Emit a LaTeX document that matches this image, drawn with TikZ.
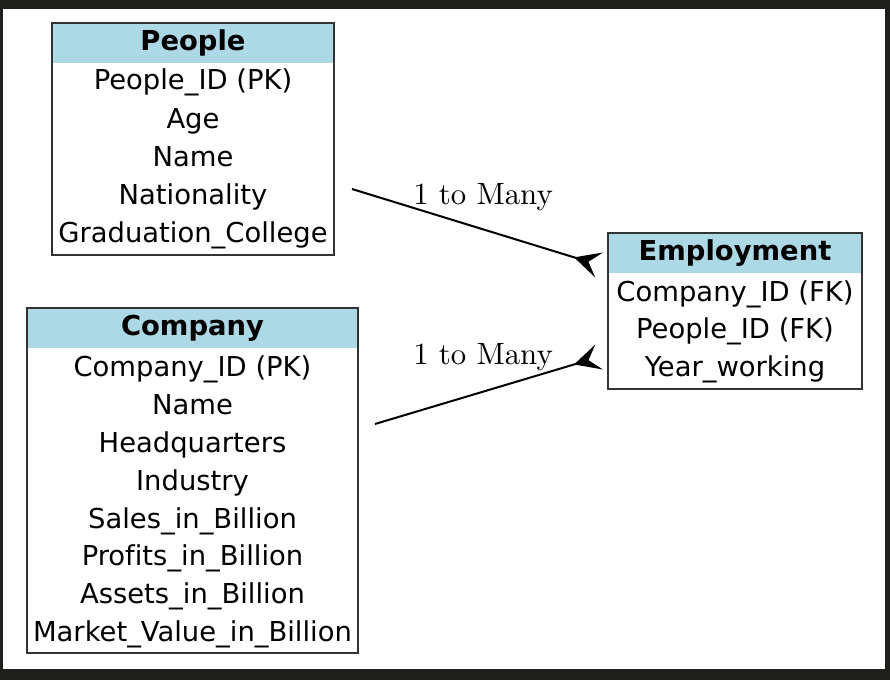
\documentclass[tikz,border=0pt]{standalone}
\usepackage{fontspec}
\newfontfamily\tabfont[Ligatures=NoCommon]{DejaVu Sans}
\newfontfamily\labfont{lmroman10-regular.otf}
\usetikzlibrary{arrows.meta}
\definecolor{framedark}{HTML}{1E1E1A}
\definecolor{headblue}{HTML}{ADD8E6}
\begin{document}
\begin{tikzpicture}[x=0.5pt,y=-0.5pt,
  tbox/.style={draw=black!80, line width=1pt, inner sep=0pt},
  thead/.style={fill=headblue, inner sep=0pt, minimum height=20pt,
    text height=10pt, text depth=3pt,
    font=\tabfont\fontsize{13.7}{16}\selectfont\bfseries},
  field/.style={inner sep=0pt, text height=10pt, text depth=0pt,
    font=\tabfont\fontsize{13.7}{16}\selectfont},
  rel/.style={line width=1pt,
    -{Stealth[reversed,length=13pt,width=13pt,inset=5.5pt]}},
  rellabel/.style={inner sep=0pt, anchor=base,
    font=\labfont\fontsize{15.4}{18}\selectfont}]
% dark frame and white canvas
\fill[framedark] (0,0) rectangle (890,680);
\fill[white] (3,9) rectangle (885,669);
\useasboundingbox (0,0) rectangle (890,680);

% People table
\node[thead, minimum width=141pt] (people-head) at (193,43) {People};
\node[field] (people-f1) at (193,80)  {People\_ID (PK)};
\node[field] (people-f2) at (193,118) {Age};
\node[field] (people-f3) at (193,156) {Name};
\node[field] (people-f4) at (193,194) {Nationality};
\node[field] (people-f5) at (193,232) {Graduation\_College};
\node[tbox, minimum width=141pt, minimum height=116pt] (people) at (193,139) {};

% Company table
\node[thead, minimum width=165.5pt] (company-head) at (192.5,328) {Company};
\node[field] (company-f1) at (192.5,366) {Company\_ID (PK)};
\node[field] (company-f2) at (192.5,404) {Name};
\node[field] (company-f3) at (192.5,442) {Headquarters};
\node[field] (company-f4) at (192.5,480) {Industry};
\node[field] (company-f5) at (192.5,518) {Sales\_in\_Billion};
\node[field] (company-f6) at (192.5,555) {Profits\_in\_Billion};
\node[field] (company-f7) at (192.5,593) {Assets\_in\_Billion};
\node[field] (company-f8) at (192.5,631) {Market\_Value\_in\_Billion};
\node[tbox, minimum width=165.5pt, minimum height=172.5pt] (company) at (192.5,480.5) {};

% Employment table
\node[thead, minimum width=127pt] (employment-head) at (735,253) {Employment};
\node[field] (employment-f1) at (735,291) {Company\_ID (FK)};
\node[field] (employment-f2) at (735,328) {People\_ID (FK)};
\node[field] (employment-f3) at (735,366) {Year\_working};
\node[tbox, minimum width=127pt, minimum height=78pt] (employment) at (735,311) {};

% relationship ends
\coordinate (people-tail) at (352,189);
\coordinate (employment-in1) at (599,265);
\coordinate (company-tail) at (375,424);
\coordinate (employment-in2) at (599,357);

\draw[rel] (people-tail) -- (employment-in1);
\draw[rel] (company-tail) -- (employment-in2);

\node[rellabel] (rel1-label) at (483,204) {1 to Many};
\node[rellabel] (rel2-label) at (483,364) {1 to Many};
\end{tikzpicture}
\end{document}
